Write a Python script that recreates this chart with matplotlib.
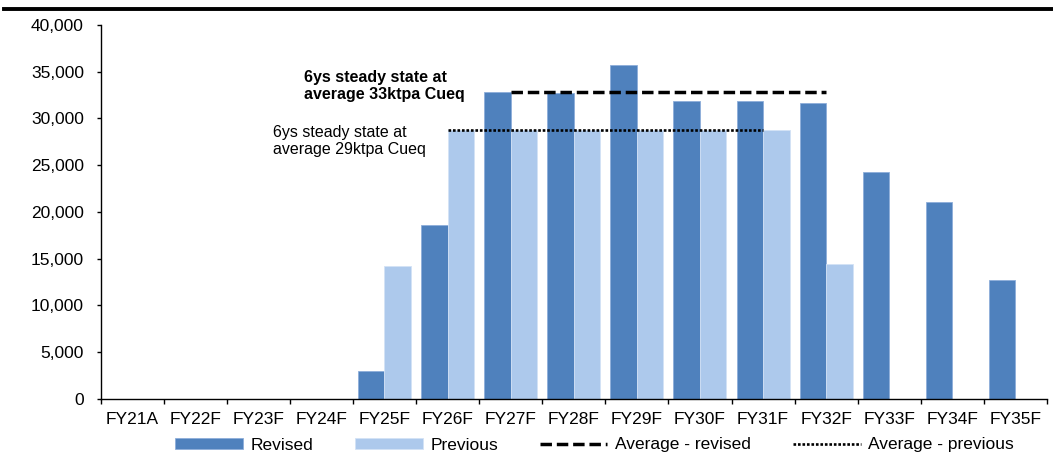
import matplotlib
matplotlib.use('Agg')
import matplotlib.pyplot as plt
import numpy as np
from matplotlib.lines import Line2D
from matplotlib.ticker import FuncFormatter, FixedLocator, NullFormatter

plt.rcParams['font.family'] = ['Liberation Sans', 'DejaVu Sans']

years = ['FY21A', 'FY22F', 'FY23F', 'FY24F', 'FY25F', 'FY26F', 'FY27F', 'FY28F',
         'FY29F', 'FY30F', 'FY31F', 'FY32F', 'FY33F', 'FY34F', 'FY35F']
revised = [0, 0, 0, 0, 2950, 18550, 32800, 32750, 35700, 31850, 31850, 31650, 24300, 21100, 12700]
previous = [0, 0, 0, 0, 14200, 28750, 28750, 28750, 28750, 28750, 28750, 14450, 0, 0, 0]
avg_revised = [np.nan] * 6 + [32800] * 6 + [np.nan] * 3
avg_previous = [np.nan] * 5 + [28750] * 6 + [np.nan] * 4

c_rev = '#4F81BD'
c_prev = '#ADC9EC'
fs = 12.5      # axis + legend text
fs_note = 11.5 # annotations

fig = plt.figure(figsize=(10.53, 4.68), dpi=100)
ax = fig.add_axes([0.0955, 0.1474, 0.8988, 0.7996])

x = np.arange(len(years))
w = 0.42
b1 = ax.bar(x - w / 2, revised, w, color=c_rev, edgecolor='#8EAEDA', linewidth=0.6, label='Revised')
b2 = ax.bar(x + w / 2, previous, w, color=c_prev, edgecolor='#D3E2F5', linewidth=0.6, label='Previous')
l1, = ax.plot(x, avg_revised, color='black', linestyle=(0, (3.3, 1.4)), linewidth=2.5, label='Average - revised')
l2, = ax.plot(x, avg_previous, color='black', linestyle=(0, (1, 0.7)), linewidth=1.9, label='Average - previous')

ax.text(2.72, 33450, '6ys steady state at\naverage 33ktpa Cueq', fontsize=fs_note,
        fontweight='bold', ha='left', va='center', linespacing=1.2)
ax.text(2.24, 27550, '6ys steady state at\naverage 29ktpa Cueq', fontsize=fs_note,
        ha='left', va='center', linespacing=1.2)

ax.set_xlim(-0.5, len(years) - 0.5)
ax.set_ylim(0, 40000)
ax.set_yticks(np.arange(0, 40001, 5000))
ax.yaxis.set_major_formatter(FuncFormatter(lambda v, p: f'{int(v):,}'))
ax.set_xticks(x)
ax.set_xticklabels(years)
ax.xaxis.set_minor_locator(FixedLocator(np.arange(-0.5, len(years), 1)))
ax.xaxis.set_minor_formatter(NullFormatter())
ax.tick_params(axis='x', which='major', length=0, labelsize=fs, pad=9)
ax.tick_params(axis='x', which='minor', length=3.5, width=1, direction='out')
ax.tick_params(axis='y', length=3, width=1, labelsize=fs, pad=9)
for s in ['top', 'right']:
    ax.spines[s].set_visible(False)
for s in ['left', 'bottom']:
    ax.spines[s].set_linewidth(1)

ax.legend(handles=[b1, b2, l1, l2], loc='center', bbox_to_anchor=(594.5 / 1053, 1 - 445 / 468),
          bbox_transform=fig.transFigure, ncol=4, frameon=False,
          fontsize=fs, handlelength=3.9, handleheight=0.62, columnspacing=2.4,
          handletextpad=0.45, borderpad=0, borderaxespad=0)

fig.add_artist(Line2D([0.004, 1.0], [0.98, 0.98], color='black', linewidth=2.8))

fig.savefig('out.png', dpi=100)
